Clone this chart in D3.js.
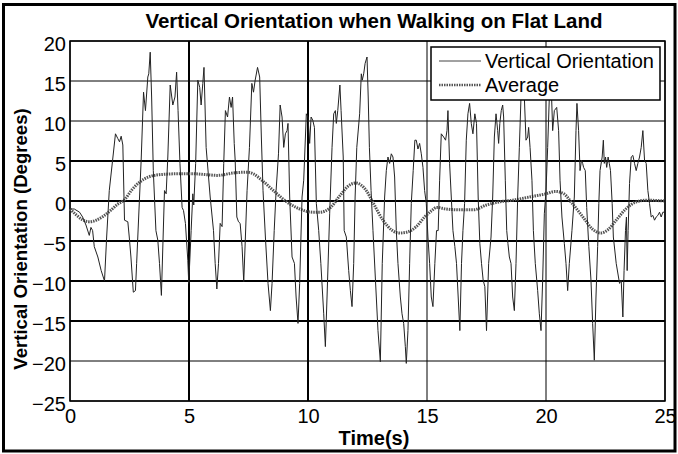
<!DOCTYPE html>
<html>
<head>
<meta charset="utf-8">
<script src="https://cdn.jsdelivr.net/npm/d3@7"></script>
<style>
    body { margin: 0; background: #fff; }
    text { font-family: "Liberation Sans", Arial, sans-serif; fill: #000; }
    .title, .axisLabel { font-weight: bold; }
</style>
</head>
<body>
<script>
//time stamps (s) of the raw vertical orientation trace
var timeVals = [0,0.18,0.40,0.53,0.67,0.81,0.88,0.95,1.02,1.17,1.31,1.45,1.54,1.65,1.79,1.91,2.01,2.08,2.15,2.22,2.29,2.43,2.49,2.56,2.66,2.75,2.80,2.99,3.09,3.17,3.27,3.31,3.37,3.43,3.50,3.61,3.69,3.76,3.84,3.97,4.04,4.11,4.21,4.32,4.41,4.48,4.54,4.62,4.71,4.77,4.85,4.95,4.99,5.09,5.16,5.20,5.28,5.37,5.45,5.51,5.58,5.63,5.72,5.89,6.03,6.10,6.17,6.24,6.31,6.39,6.46,6.53,6.62,6.70,6.77,6.83,6.90,6.94,7.01,7.08,7.15,7.23,7.30,7.37,7.44,7.54,7.64,7.71,7.78,7.88,7.97,8.04,8.11,8.21,8.32,8.42,8.49,8.58,8.66,8.76,8.83,8.91,8.98,9.05,9.12,9.16,9.23,9.33,9.43,9.50,9.58,9.65,9.75,9.82,9.93,10.00,10.07,10.13,10.20,10.27,10.35,10.45,10.54,10.66,10.73,10.80,10.91,11.01,11.08,11.15,11.19,11.25,11.34,11.39,11.48,11.52,11.61,11.71,11.78,11.85,11.92,11.98,12.05,12.17,12.24,12.28,12.34,12.40,12.48,12.53,12.58,12.65,12.73,12.87,12.94,13.04,13.12,13.22,13.29,13.36,13.43,13.50,13.57,13.64,13.71,13.78,13.88,13.95,14.02,14.09,14.13,14.20,14.27,14.34,14.42,14.49,14.55,14.62,14.69,14.76,14.83,14.90,14.97,15.04,15.11,15.18,15.25,15.33,15.40,15.47,15.53,15.60,15.70,15.78,15.84,15.88,15.95,16.02,16.09,16.17,16.24,16.31,16.38,16.45,16.51,16.58,16.65,16.72,16.79,16.86,16.93,17.01,17.08,17.15,17.22,17.29,17.36,17.43,17.50,17.59,17.69,17.76,17.83,17.90,17.97,18.01,18.06,18.12,18.18,18.22,18.29,18.35,18.40,18.46,18.53,18.60,18.67,18.74,18.81,18.88,18.95,19.02,19.09,19.16,19.23,19.27,19.33,19.41,19.47,19.55,19.65,19.72,19.79,19.86,19.93,20.00,20.07,20.14,20.20,20.28,20.35,20.45,20.53,20.59,20.67,20.77,20.84,20.91,20.98,21.09,21.19,21.26,21.30,21.37,21.43,21.49,21.54,21.58,21.65,21.71,21.80,21.89,21.96,22.03,22.10,22.17,22.22,22.27,22.36,22.41,22.45,22.50,22.55,22.61,22.66,22.71,22.78,22.83,22.95,23.09,23.16,23.23,23.28,23.34,23.38,23.41,23.45,23.51,23.58,23.65,23.72,23.79,23.86,23.93,24.00,24.07,24.14,24.21,24.28,24.35,24.42,24.49,24.56,24.63,24.70,24.77,24.84,24.91,24.98];

//vertical orientation (degrees) at each time stamp
var orientVals = [-1.0,-1.0,-1.4,-2.0,-3.0,-4.3,-3.3,-3.7,-5.7,-7.0,-8.7,-10.0,-4.5,1.3,5.1,8.4,7.8,7.4,8.1,7.0,-2.4,-2.6,-4.5,-7.0,-11.4,-11.2,-7.8,5.1,13.6,11.3,15.5,15.9,18.6,13.0,3.8,-3.7,-4.9,-7.8,-11.8,1.3,0.9,5.5,14.5,12.0,13.0,16.1,11.3,4.7,-0.8,-1.2,-2.8,-7.4,-10.3,-3.7,0.9,-0.5,4.7,15.1,14.2,12.0,14.7,16.7,6.7,0.5,-3.7,-7.8,-11.0,-7.8,-2.8,-3.2,4.7,11.3,10.5,13.0,11.7,13.0,7.2,5.1,-2.0,-2.6,-2.8,-5.7,-10.1,-4.5,1.3,6.7,14.7,13.6,15.1,16.7,15.5,8.0,1.3,-4.5,-10.3,-13.7,-10.3,-3.7,1.3,5.9,12.0,10.5,6.7,8.4,8.8,9.7,0.5,-7.0,-7.8,-12.0,-15.3,-10.3,0.5,2.6,10.9,10.5,7.2,10.5,10.1,9.2,-0.3,-3.7,-7.8,-14.1,-18.2,-12.0,-1.6,6.7,10.9,11.3,9.7,11.3,14.5,11.3,5.5,-3.7,-4.5,-8.7,-11.2,-13.2,-7.8,0.5,6.7,10.9,15.9,15.1,15.9,17.2,18.0,13.0,6.7,1.3,-3.7,-12.0,-16.2,-20.1,-7.8,0.5,3.8,5.5,4.7,5.9,5.5,3.0,-3.7,-7.8,-12.0,-14.1,-15.3,-18.2,-20.3,-16.2,-7.8,-0.3,3.8,7.6,7.6,6.5,7.2,5.9,4.2,1.3,-0.3,-4.5,-7.8,-12.0,-13.2,-7.8,-3.7,-3.7,2.6,8.4,8.0,7.6,8.8,11.3,4.7,0.5,-3.7,-5.7,-7.8,-12.0,-16.2,-7.8,-3.7,-0.3,7.6,10.9,12.2,9.7,8.4,10.9,9.7,0.5,-5.3,-7.8,-9.9,-10.7,-16.2,-7.8,-4.5,0.5,8.0,10.9,8.8,7.2,9.7,11.3,12.0,10.5,2.6,-3.7,-5.3,-7.0,-7.8,-12.0,-13.7,-7.8,0.5,6.7,13.0,16.3,13.0,7.6,8.0,9.2,6.7,2.6,-3.7,-7.8,-11.2,-14.1,-16.2,-9.9,-1.6,1.3,6.7,13.0,16.3,8.8,11.3,11.7,8.8,2.6,-2.0,-5.3,-7.8,-11.2,-7.8,-3.7,0.5,8.8,12.2,8.8,3.8,5.1,4.7,4.2,3.8,-0.8,-5.7,-9.9,-15.3,-19.9,-12.0,-5.7,-0.3,3.8,5.5,7.6,4.7,5.5,4.2,5.5,4.7,3.8,-0.3,-4.5,-7.8,-10.3,-9.9,-14.5,-8.7,-3.7,-2.0,-8.7,-3.7,2.2,5.5,5.7,4.7,3.8,4.7,5.5,6.7,8.8,5.1,4.7,1.3,-0.3,-2.0,-1.8,-2.4,-2.0,-1.8,-1.4,-2.0,-1.4,-1.4];

//time stamps (s) and values of the moving average
var avgTime = [0,0.25,0.5,0.8,1.1,1.4,1.7,2.0,2.3,2.6,2.9,3.3,3.8,4.5,5.2,5.7,6.2,6.85,7.45,7.7,8.1,8.55,9.1,9.65,10.2,10.5,10.95,11.35,11.75,12.0,12.45,12.75,13.15,13.55,13.85,14.15,14.55,14.9,15.2,15.4,15.8,16.4,16.95,17.5,18.05,18.6,19.3,20.0,20.4,20.75,21.1,21.55,21.95,22.3,22.6,22.95,23.35,23.8,24.2,25];
var avgVals = [-1.0,-1.7,-2.3,-2.6,-2.4,-1.9,-1.2,-0.4,0.2,1.4,2.3,3.0,3.3,3.4,3.4,3.3,3.2,3.5,3.6,3.4,2.5,1.3,-0.1,-1.0,-1.4,-1.4,-0.8,0.7,2.0,2.25,1.3,-0.3,-2.4,-3.7,-4.0,-3.9,-3.2,-2.0,-1.2,-0.8,-1.0,-1.1,-1.1,-0.5,-0.1,0.1,0.5,0.9,1.2,0.9,-0.3,-2.0,-3.5,-4.0,-3.6,-2.4,-1.0,-0.1,0.1,0];

//tick labels
var xTicks = [0, 5, 10, 15, 20, 25];
var yTicks = [20, 15, 10, 5, 0, -5, -10, -15, -20, -25];

//gridlines that show up heavier in the figure
var heavyX = [5, 10];
var heavyY = [5, 0, -5, -10, -15];

//legend entries
var legendNames = ["Vertical Orientation", "Average"];

//SVG dimension variables
var w = 678, h = 454;
var plot = {left: 70, right: 665, top: 41, bottom: 401};
var midX = 374;

//create the SVG container
var svg = d3.select("body")
    .append("svg")
    .attr("width", w)
    .attr("height", h);

//outer frame
svg.append("rect")
    .attr("x", 3.5)
    .attr("y", 4.5)
    .attr("width", 671.5)
    .attr("height", 446.5)
    .style("fill", "#fff")
    .style("stroke", "#000")
    .style("stroke-width", 3);

//scales
var x = d3.scaleLinear()
    .domain([0, 25])
    .range([plot.left, plot.right]);

var y = d3.scaleLinear()
    .domain([-25, 20])
    .range([plot.bottom, plot.top]);

//vertical gridlines
svg.append("g")
    .selectAll("line")
    .data(xTicks)
    .enter()
    .append("line")
    .attr("x1", function(d){ return x(d); })
    .attr("x2", function(d){ return x(d); })
    .attr("y1", plot.top)
    .attr("y2", plot.bottom)
    .style("stroke", "#000")
    .style("stroke-width", function(d){
        return heavyX.indexOf(d) >= 0 ? 2 : 1;
    });

//horizontal gridlines
svg.append("g")
    .selectAll("line")
    .data(yTicks)
    .enter()
    .append("line")
    .attr("x1", plot.left)
    .attr("x2", plot.right)
    .attr("y1", function(d){ return y(d); })
    .attr("y2", function(d){ return y(d); })
    .style("stroke", "#000")
    .style("stroke-width", function(d){
        return heavyY.indexOf(d) >= 0 ? 2 : 1;
    });

//plot box
svg.append("rect")
    .attr("x", plot.left)
    .attr("y", plot.top)
    .attr("width", plot.right - plot.left)
    .attr("height", plot.bottom - plot.top)
    .style("fill", "none")
    .style("stroke", "#000")
    .style("stroke-width", 1.5);

//axes: labels only, grid already drawn
var xAxis = svg.append("g")
    .attr("transform", "translate(0," + plot.bottom + ")")
    .call(d3.axisBottom(x).tickValues(xTicks).tickSize(0));

var yAxis = svg.append("g")
    .attr("transform", "translate(" + plot.left + ",0)")
    .call(d3.axisLeft(y).tickValues(yTicks).tickSize(0).tickPadding(4));

xAxis.select(".domain").remove();
yAxis.select(".domain").remove();

xAxis.selectAll("text")
    .attr("y", 22)
    .attr("dy", null)
    .style("font-size", "20px")
    .style("font-family", "Liberation Sans, Arial, sans-serif");

yAxis.selectAll("text")
    .attr("dy", "0.45em")
    .style("font-size", "20px")
    .style("font-family", "Liberation Sans, Arial, sans-serif");

//average line (thick dotted)
var avgLine = d3.line()
    .x(function(d, i){ return x(avgTime[i]); })
    .y(function(d){ return y(d); })
    .curve(d3.curveMonotoneX);

svg.append("path")
    .datum(avgVals)
    .attr("d", avgLine)
    .style("fill", "none")
    .style("stroke", "#555")
    .style("stroke-width", 3)
    .style("stroke-dasharray", "1.5,1");

//raw orientation line
var rawLine = d3.line()
    .x(function(d, i){ return x(timeVals[i]); })
    .y(function(d){ return y(d); });

svg.append("path")
    .datum(orientVals)
    .attr("d", rawLine)
    .style("fill", "none")
    .style("stroke", "#222")
    .style("stroke-width", 1);

//legend
var legend = svg.append("g")
    .attr("transform", "translate(431,47)");

legend.append("rect")
    .attr("width", 229)
    .attr("height", 53)
    .style("fill", "#fff")
    .style("stroke", "#000")
    .style("stroke-width", 1.5);

legend.append("line")
    .attr("x1", 8).attr("x2", 50)
    .attr("y1", 14).attr("y2", 14)
    .style("stroke", "#444")
    .style("stroke-width", 1);

legend.append("line")
    .attr("x1", 8).attr("x2", 50)
    .attr("y1", 38).attr("y2", 38)
    .style("stroke", "#555")
    .style("stroke-width", 2.5)
    .style("stroke-dasharray", "1.5,1");

legend.selectAll(".legendText")
    .data(legendNames)
    .enter()
    .append("text")
    .attr("class", "legendText")
    .attr("x", 54)
    .attr("y", function(d, i){ return 14 + i * 24; })
    .attr("dy", "0.36em")
    .style("font-size", "20px")
    .text(function(d){ return d; });

//chart title
svg.append("text")
    .attr("class", "title")
    .attr("text-anchor", "middle")
    .attr("x", midX)
    .attr("y", 28)
    .style("font-size", "20.5px")
    .text("Vertical Orientation when Walking on Flat Land");

//x axis label
svg.append("text")
    .attr("class", "axisLabel")
    .attr("text-anchor", "middle")
    .attr("x", midX)
    .attr("y", 445)
    .style("font-size", "20px")
    .text("Time(s)");

//y axis label
svg.append("text")
    .attr("class", "axisLabel")
    .attr("text-anchor", "middle")
    .attr("transform", "translate(27,239) rotate(-90)")
    .style("font-size", "18.6px")
    .text("Vertical Orientation (Degrees)");
</script>
</body>
</html>
